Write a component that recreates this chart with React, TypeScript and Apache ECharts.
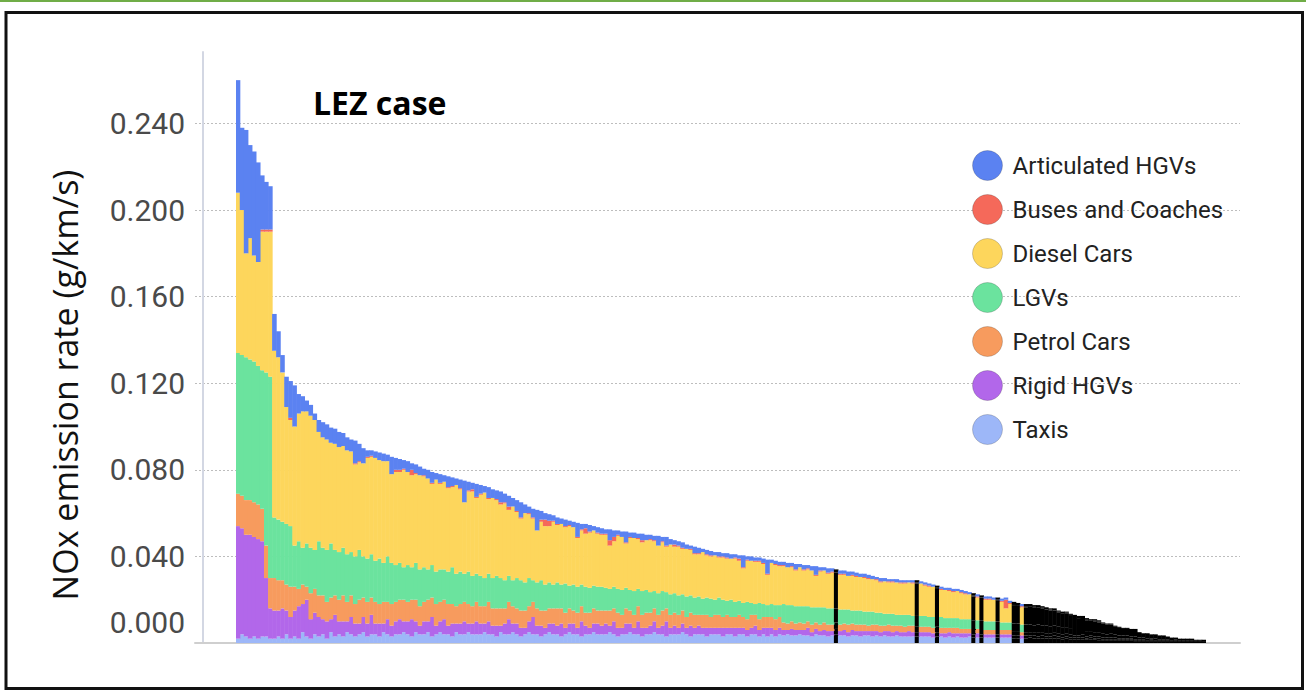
import React, { useEffect, useRef } from 'react';
import * as echarts from 'echarts';

// Stack order (bottom -> top) and legend order
const stackOrder = ['Taxis', 'Rigid HGVs', 'Petrol Cars', 'LGVs', 'Diesel Cars', 'Buses and Coaches', 'Articulated HGVs'];
const legendOrder = ['Articulated HGVs', 'Buses and Coaches', 'Diesel Cars', 'LGVs', 'Petrol Cars', 'Rigid HGVs', 'Taxis'];
const seriesColors: Record<string, string> = {
  'Articulated HGVs': '#5b82f1',
  'Buses and Coaches': '#f5695a',
  'Diesel Cars': '#fdd65c',
  'LGVs': '#6be39e',
  'Petrol Cars': '#f79b5e',
  'Rigid HGVs': '#b267ea',
  'Taxis': '#9db7f8',
};
const yTickStep = 0.04;
const yMax = 0.273;

// NOx emission rate (g/km/s) per road link, sorted by total
const taxis = [
  0.002,0.004,0.003,0.002,0.003,0.002,0.003,0.003,0.002,
  0.002,0.003,0.002,0.004,0.002,0.003,0.002,0.005,0.003,0.002,0.004,
  0.003,0.004,0.002,0.005,0.003,0.004,0.003,0.005,0.004,0.003,
  0.004,0.005,0.003,0.004,0.004,0.003,0.005,0.004,0.003,0.004,
  0.004,0.005,0.004,0.003,0.005,0.004,0.004,0.005,0.003,0.004,
  0.005,0.004,0.004,0.003,0.005,0.004,0.004,0.005,0.004,0.004,
  0.004,0.005,0.004,0.004,0.003,0.005,0.004,0.004,0.005,0.004,
  0.003,0.004,0.005,0.004,0.004,0.003,0.004,0.005,0.004,0.004,
  0.003,0.004,0.005,0.004,0.004,0.003,0.004,0.004,0.005,0.004,
  0.004,0.004,0.005,0.004,0.003,0.004,0.004,0.005,0.004,0.004,
  0.003,0.004,0.004,0.005,0.004,0.004,0.003,0.004,0.004,0.004,
  0.005,0.004,0.003,0.004,0.004,0.004,0.003,0.004,0.004,0.004,
  0.003,0.004,0.004,0.003,0.004,0.004,0.003,0.004,0.004,0.003,
  0.004,0.003,0.004,0.003,0.004,
  0.0035,0.004,0.0035,0.0035,0.004,0.0035,0.0035,0.003,0.004,0.0035,
  0.0035,0.003,0.0035,0.004,0.0035,0.0035,0.003,0.0035,0.0035,0.003,
  0.0035,0.0035,0.003,0.0035,0.003,0.0035,0.003,0.003,0.0035,0.003,
  0.003,0.003,0.003,0.003,0.003,0.003,0.003,0.0025,0.003,0.003,
  0.0025,0.003,0.0025,0.003,0.0025,0.0025,0.003,0.0025,0.0025,0.0025,
  0.0025,0.0025,0.0025,0.0025,0.0025,0.0025,0.0025,0.002,0.002,0.002,
  0.002,0.0025,0.002,0.002,0.002,0.002,0.002,0.002,0.002,0.0015,
  0.002,0.0015,0.0015,0.0015,0.0015,0.0015,0.0015,0.0015,0.001,0.001,
  0.001,0.001,0.001,0.001,0.001,0.001,0.001,0.0005,0.0005,0.0005,
  0.0005,0.0005,0.0005,0.0005,0.0005,0.0005,0.0005,0.0005,0.0005,0.0005,
  0.0005,0.0005,0.0005,0.0005,0.0005,
];

const rigidHGVs = [
  0.052,0.049,0.047,0.048,0.046,0.046,0.044,0.027,0.014,
  0.013,0.012,0.014,0.011,0.010,0.012,0.015,0.013,0.017,0.009,0.010,
  0.009,0.007,0.008,0.006,0.010,0.006,0.007,0.005,0.008,0.006,
  0.005,0.007,0.006,0.009,0.005,0.006,0.004,0.007,0.005,0.006,
  0.007,0.005,0.006,0.008,0.005,0.004,0.006,0.005,0.009,0.004,
  0.005,0.007,0.004,0.006,0.004,0.005,0.006,0.004,0.005,0.006,
  0.005,0.004,0.006,0.004,0.005,0.003,0.005,0.007,0.004,0.005,
  0.004,0.003,0.005,0.008,0.004,0.005,0.003,0.004,0.005,0.004,
  0.006,0.003,0.004,0.005,0.003,0.007,0.004,0.003,0.004,0.005,
  0.004,0.005,0.003,0.006,0.004,0.003,0.005,0.004,0.003,0.006,
  0.004,0.003,0.004,0.005,0.003,0.004,0.007,0.003,0.004,0.003,
  0.004,0.003,0.005,0.003,0.004,0.003,0.004,0.003,0.003,0.003,
  0.004,0.003,0.003,0.004,0.003,0.003,0.003,0.003,0.004,0.003,
  0.003,0.004,0.003,0.003,0.003,
  0.0025,0.002,0.003,0.0025,0.002,0.0025,0.0035,0.002,0.0025,0.002,
  0.0025,0.0025,0.002,0.0025,0.002,0.0025,0.002,0.0025,0.002,0.0025,
  0.002,0.002,0.0025,0.002,0.002,0.002,0.0025,0.002,0.002,0.002,
  0.002,0.0025,0.002,0.002,0.002,0.002,0.002,0.002,0.002,0.0015,
  0.002,0.002,0.002,0.0015,0.002,0.002,0.0015,0.0015,0.002,0.0015,
  0.0015,0.0015,0.0015,0.0015,0.0015,0.0015,0.0015,0.0015,0.0015,0.0015,
  0.0015,0.001,0.0015,0.001,0.0015,0.001,0.001,0.0015,0.001,0.001,
  0.001,0.001,0.001,0.001,0.001,0.0005,0.001,0.0005,0.001,0.0005,
  0.0005,0.0005,0.0005,0.0005,0.0005,0.0005,0.0005,0.0005,0.0005,0.0005,
  0,0.0005,0,0,0.0005,0,0,0,0,0,
  0,0,0,0,0,
];

const petrolCars = [
  0.015,0.015,0.016,0.016,0.016,0.016,0.015,0.015,0.014,
  0.015,0.014,0.013,0.012,0.014,0.011,0.008,0.009,0.006,0.012,0.011,
  0.010,0.011,0.009,0.010,0.009,0.010,0.012,0.009,0.010,0.009,
  0.011,0.009,0.010,0.008,0.010,0.009,0.010,0.008,0.010,0.009,
  0.009,0.010,0.009,0.009,0.010,0.009,0.009,0.010,0.009,0.010,
  0.009,0.009,0.010,0.009,0.008,0.009,0.009,0.009,0.008,0.009,
  0.008,0.008,0.009,0.008,0.008,0.008,0.007,0.008,0.008,0.007,
  0.008,0.008,0.007,0.007,0.008,0.007,0.008,0.007,0.007,0.008,
  0.007,0.007,0.007,0.006,0.007,0.007,0.006,0.007,0.007,0.006,
  0.007,0.006,0.007,0.006,0.007,0.006,0.007,0.006,0.006,0.007,
  0.006,0.007,0.006,0.006,0.006,0.007,0.006,0.006,0.006,0.006,
  0.006,0.005,0.006,0.006,0.005,0.006,0.006,0.005,0.006,0.006,
  0.005,0.006,0.005,0.005,0.006,0.005,0.005,0.006,0.005,0.005,
  0.005,0.005,0.005,0.005,0.005,
  0.0035,0.003,0.0035,0.003,0.0035,0.003,0.003,0.0035,0.003,0.003,
  0.0035,0.003,0.003,0.003,0.003,0.003,0.0035,0.003,0.003,0.003,
  0.003,0.0025,0.003,0.003,0.003,0.0025,0.003,0.003,0.0025,0.003,
  0.0025,0.0025,0.003,0.0025,0.0025,0.0025,0.0025,0.0025,0.0025,0.0025,
  0.0025,0.002,0.0025,0.0025,0.002,0.002,0.002,0.002,0.002,0.002,
  0.002,0.002,0.002,0.002,0.002,0.002,0.002,0.002,0.002,0.0015,
  0.0015,0.0015,0.0015,0.002,0.0015,0.0015,0.0015,0.0015,0.0015,0.0015,
  0.0015,0.0015,0.001,0.001,0.0015,0.001,0.001,0.001,0.001,0.001,
  0.001,0.001,0.001,0.0005,0.0005,0.0005,0.0005,0.0005,0.0005,0.0005,
  0.0005,0.0005,0.0005,0.0005,0,0.0005,0,0.0005,0,0,
  0,0,0,0,0,
];

const lgvs = [
  0.065,0.065,0.066,0.065,0.065,0.064,0.064,0.080,0.093,
  0.028,0.028,0.027,0.028,0.028,0.019,0.022,0.017,0.020,0.021,0.018,
  0.025,0.022,0.024,0.025,0.021,0.022,0.022,0.022,0.020,0.022,
  0.023,0.019,0.020,0.020,0.019,0.021,0.018,0.021,0.019,0.017,
  0.017,0.015,0.017,0.015,0.017,0.017,0.016,0.014,0.015,0.015,
  0.015,0.014,0.015,0.017,0.015,0.015,0.013,0.015,0.014,0.013,
  0.014,0.013,0.013,0.014,0.015,0.014,0.013,0.012,0.012,0.014,
  0.014,0.013,0.013,0.010,0.012,0.014,0.012,0.012,0.011,0.012,
  0.011,0.0135,0.0105,0.012,0.012,0.010,0.012,0.0115,0.0105,0.011,
  0.011,0.0105,0.010,0.010,0.011,0.0115,0.0095,0.0095,0.011,0.008,
  0.011,0.0105,0.0095,0.008,0.010,0.009,0.0075,0.0095,0.009,0.009,
  0.0075,0.0095,0.008,0.008,0.0085,0.0075,0.008,0.0085,0.007,0.008,
  0.008,0.0065,0.008,0.007,0.0065,0.0065,0.008,0.0055,0.005,0.0075,
  0.006,0.0055,0.006,0.0065,0.0055,
  0.0085,0.0085,0.0075,0.008,0.0075,0.008,0.007,0.008,0.007,0.008,
  0.007,0.0075,0.0075,0.0065,0.007,0.0065,0.007,0.006,0.0065,0.0065,
  0.006,0.0065,0.006,0.0055,0.006,0.0055,0.005,0.0055,0.005,0.005,
  0.0055,0.005,0.0045,0.005,0.005,0.005,0.0045,0.005,0.0045,0.005,
  0.0045,0.0045,0.0045,0.0045,0.0045,0.0045,0.0045,0.0045,0.004,0.0045,
  0.004,0.004,0.004,0.004,0.0035,0.0035,0.0035,0.0035,0.0035,0.0035,
  0.0035,0.0035,0.003,0.0035,0.003,0.0035,0.003,0.003,0.003,0.003,
  0.0025,0.0025,0.0025,0.0025,0.002,0.0025,0.002,0.002,0.002,0.002,
  0.0015,0.002,0.0015,0.0015,0.0015,0.0015,0.001,0.0015,0.001,0.001,
  0.001,0.0005,0.001,0.0005,0.0005,0.0005,0.0005,0.0005,0.0005,0.0005,
  0.0005,0.0005,0.0005,0.0005,0,
];

const dieselCars = [
  0.074,0.067,0.048,0.056,0.049,0.048,0.064,0.065,0.067,
  0.077,0.075,0.069,0.054,0.049,0.055,0.059,0.063,0.061,0.061,0.060,
  0.0505,0.051,0.051,0.0465,0.049,0.0485,0.047,0.048,0.0465,0.0425,
  0.0405,0.043,0.0465,0.045,0.0475,0.0455,0.047,0.044,0.041,0.043,
  0.042,0.045,0.043,0.0425,0.041,0.0435,0.042,0.042,0.0375,0.0425,
  0.0395,0.0405,0.0385,0.037,0.041,0.038,0.033,0.037,0.039,0.035,
  0.0375,0.0395,0.0345,0.037,0.035,0.034,0.0355,0.0305,0.034,0.0305,
  0.0285,0.032,0.0295,0.0285,0.024,0.027,0.027,0.026,0.029,0.0265,
  0.028,0.026,0.0275,0.0265,0.0225,0.025,0.0245,0.0255,0.0255,0.0245,
  0.024,0.0245,0.020,0.021,0.0245,0.0245,0.0205,0.024,0.0245,0.023,
  0.0225,0.023,0.024,0.023,0.022,0.0225,0.021,0.023,0.0215,0.0225,
  0.021,0.022,0.021,0.020,0.0195,0.0215,0.0195,0.0195,0.0205,0.0185,
  0.0195,0.0195,0.019,0.020,0.0185,0.016,0.019,0.0195,0.0195,0.019,
  0.0185,0.014,0.019,0.0185,0.018,
  0.0175,0.0175,0.0175,0.0165,0.018,0.0165,0.017,0.017,0.0145,0.0165,
  0.017,0.016,0.0165,0.0165,0.016,0.016,0.0155,0.016,0.0155,0.0155,
  0.0155,0.015,0.015,0.015,0.014,0.015,0.0145,0.0145,0.015,0.0145,
  0.0145,0.015,0.015,0.015,0.015,0.014,0.014,0.014,0.013,0.0125,
  0.013,0.0125,0.012,0.0125,0.012,0.0115,0.0115,0.011,0.0105,0.0105,
  0.010,0.010,0.010,0.0095,0.0095,0.0065,0.0085,0.0085,0.0085,0.008,
  0.008,0.0085,0.0085,0.008,0.008,0.0075,0.0075,0.007,0.0065,0.0065,
  0.0065,0.006,0.006,0.0055,0.006,0.005,0.005,0.005,0.0045,0.0045,
  0.0045,0.004,0.0035,0.0035,0.003,0.003,0.003,0.003,0.0025,0.002,
  0.0025,0.002,0.002,0.002,0.002,0.0015,0.0015,0.001,0.001,0.001,
  0.001,0.001,0.0005,0.0005,0.001,
];

const buses = [
  0,0,0,0,0,0,0.001,0.001,0.001,
  0,0,0,0,0.001,0,0,0,0,0,0,
  0,0,0,0,0,0,0,0,0,0.0005,
  0.0005,0,0.0005,0.0005,0,0,0,0,0,0.001,
  0.001,0.0005,0,0.0025,0.0005,0,0.0005,0,0.0005,0,
  0.0005,0,0.0005,0.0005,0,0.0005,0,0.0005,0.001,0.0005,
  0.0005,0,0.0005,0,0.0005,0.001,0.0005,0.0015,0,0.0005,
  0.0005,0,0.0005,0.0005,0,0.001,0.003,0.0025,0.0005,0.0005,
  0,0.0005,0.0005,0,0.0005,0.0005,0.0025,0.0005,0,0.0005,
  0.0005,0.0005,0.0025,0.002,0.0005,0,0.0005,0.0005,0,0.0005,
  0.001,0,0.0005,0.0005,0,0.0005,0.0005,0,0.001,0.0005,
  0.0005,0,0.0005,0.0005,0.0005,0,0.0005,0.0005,0,0.0005,
  0.0005,0.0005,0,0.0005,0.001,0.0005,0.0005,0,0.0005,0.0005,
  0.0005,0.0005,0,0.0005,0.0005,
  0.0005,0,0.0005,0.0005,0,0.0005,0.0005,0,0.0005,0.0005,
  0,0.0005,0.0005,0,0.0005,0.0005,0,0.0005,0.0005,0,
  0.0005,0.0005,0,0.0005,0.0005,0,0.0005,0.0005,0,0.0005,
  0.0005,0,0.0005,0.0005,0,0.0005,0.0005,0,0.0005,0.0005,
  0,0.0005,0.0005,0,0.0005,0.0005,0,0.0005,0.0005,0,
  0.0005,0.0005,0,0.0005,0.0005,0.004,0.0005,0.0005,0,0.0005,
  0.0005,0,0.0005,0,0.0005,0,0.0005,0,0.0005,0,
  0.0005,0.0005,0,0.0005,0,0.0005,0,0.0005,0.0005,0,
  0,0,0,0,0,0,0,0,0,0,
  0,0,0,0,0,0,0,0,0,0,
  0,0,0,0,0,
];

const articulatedHGVs = [
  0.052,0.038,0.057,0.043,0.048,0.046,0.025,0.022,0.020,
  0.017,0.012,0.008,0.014,0.017,0.019,0.009,0.007,0.005,0.005,0.003,
  0.0055,0.007,0.007,0.007,0.007,0.007,0.006,0.006,0.0055,0.0105,
  0.008,0.007,0.003,0.0025,0.003,0.0035,0.0035,0.003,0.008,0.0055,
  0.005,0.004,0.005,0.003,0.004,0.004,0.003,0.004,0.005,0.003,
  0.004,0.003,0.005,0.004,0.003,0.004,0.010,0.004,0.003,0.006,
  0.004,0.003,0.005,0.004,0.004,0.005,0.004,0.005,0.004,0.005,
  0.007,0.004,0.003,0.004,0.0095,0.004,0.003,0.003,0.0025,0.003,
  0.0025,0.003,0.002,0.0025,0.0065,0.0025,0.002,0.003,0.002,0.0025,
  0.0025,0.002,0.005,0.003,0.002,0.0025,0.005,0.002,0.0025,0.002,
  0.003,0.0025,0.002,0.002,0.0045,0.002,0.004,0.0025,0.002,0.002,
  0.0025,0.002,0.0015,0.003,0.0025,0.0015,0.002,0.002,0.0015,0.002,
  0.0015,0.002,0.002,0.0015,0.0015,0.0055,0.0015,0.002,0.0015,0.0015,
  0.002,0.0065,0.0015,0.0015,0.0015,
  0.0015,0.002,0.0015,0.0025,0.0015,0.002,0.0015,0.002,0.004,0.0015,
  0.0015,0.002,0.0015,0.0015,0.0015,0.0015,0.002,0.0015,0.0015,0.0015,
  0.0015,0.0015,0.0015,0.001,0.0015,0.0015,0.001,0.001,0.0015,0.001,
  0.001,0.001,0.001,0.001,0.001,0.001,0.001,0.001,0.001,0.001,
  0.001,0.001,0.001,0.001,0.001,0.001,0.001,0.001,0.001,0.001,
  0.001,0.001,0.001,0.001,0.001,0.001,0.001,0.001,0.001,0.001,
  0.001,0.001,0.0005,0.001,0.0005,0.001,0.0005,0.001,0.0005,0.001,
  0.0005,0.0005,0.001,0.0005,0.0005,0.0005,0.0005,0.0005,0.0005,0.0005,
  0.0005,0.0005,0.0005,0.0005,0.0005,0.0005,0.0005,0.0005,0,0,
  0,0,0,0,0,0,0,0,0,0,
  0,0,0,0,0,
];

// road links drawn in black in the original figure
const blackBars = [
  148, 168, 173, 182, 184, 188, 192, 193,
  195, 196, 197, 198, 199, 200, 201, 202, 203, 204, 205, 206, 207, 208, 209,
  210, 211, 212, 213, 214, 215, 216, 217, 218, 219, 220, 221, 222, 223, 224,
  225, 226, 227, 228, 229, 230, 231, 232, 233, 234, 235, 236, 237, 238, 239,
];

const seriesData: Record<string, number[]> = {
  'Taxis': taxis,
  'Rigid HGVs': rigidHGVs,
  'Petrol Cars': petrolCars,
  'LGVs': lgvs,
  'Diesel Cars': dieselCars,
  'Buses and Coaches': buses,
  'Articulated HGVs': articulatedHGVs,
};

const chartTitle = 'LEZ case';
const yAxisTitle = 'NOx emission rate (g/km/s)';

export default function App() {
  const ref = useRef<HTMLDivElement>(null);
  useEffect(() => {
    document.body.style.margin = '0';
    const chart = echarts.init(ref.current as HTMLDivElement, null, { renderer: 'svg' });
    const black = new Set(blackBars);
    const links = taxis.map((_, i) => String(i + 1));
    const series = stackOrder.map((name) => ({
      type: 'bar',
      name,
      stack: 'total',
      xAxisIndex: 0,
      yAxisIndex: 0,
      barWidth: 4.6,
      itemStyle: { color: seriesColors[name] },
      emphasis: { disabled: true },
      data: seriesData[name].map((v, i) => (black.has(i)
        ? { value: v, itemStyle: { color: '#000000' } }
        : v)),
    }));
    const labelFont = { fontSize: 30, fontFamily: 'Roboto', color: '#4a4a4a' };
    chart.setOption({
      animation: false,
      backgroundColor: '#ffffff',
      grid: [
        { left: 236, right: 100, top: 52, bottom: 48, containLabel: false },
        { left: 195, right: 66, top: 52, bottom: 48, containLabel: false },
      ],
      legend: {
        orient: 'vertical',
        left: 972,
        top: 150,
        padding: 0,
        icon: 'circle',
        itemWidth: 30,
        itemHeight: 30,
        itemGap: 13,
        data: legendOrder,
        selectedMode: false,
        itemStyle: { borderColor: 'rgba(0,0,0,0.18)', borderWidth: 1 },
        textStyle: { fontSize: 24, fontFamily: 'Roboto', color: '#222', padding: [0, 0, 0, 5] },
      },
      xAxis: [
        {
          type: 'category',
          gridIndex: 0,
          data: links,
          boundaryGap: true,
          show: false,
        },
        {
          type: 'value',
          gridIndex: 1,
          min: 0,
          max: 1,
          axisLine: { show: true, onZero: false, lineStyle: { color: '#cfcfcf', width: 2 } },
          axisTick: { show: false },
          axisLabel: { show: false },
          splitLine: { show: false },
        },
      ],
      yAxis: [
        {
          type: 'value',
          gridIndex: 0,
          min: 0,
          max: yMax,
          show: false,
          splitLine: { show: false },
        },
        {
          type: 'value',
          gridIndex: 1,
          min: 0,
          max: yMax,
          interval: yTickStep,
          offset: -8,
          axisLine: { show: true, onZero: false, lineStyle: { color: '#d3d7e3', width: 2 } },
          axisTick: { show: false },
          axisLabel: {
            ...labelFont,
            margin: 18,
            showMaxLabel: false,
            formatter: (v: number) => {
              const k = v / yTickStep;
              if (Math.abs(k - Math.round(k)) > 1e-6) return '';
              if (Math.abs(v) < 1e-9) return '{z|0.000}';
              return v.toFixed(3);
            },
            rich: { z: { ...labelFont, padding: [0, 0, 42, 0] } },
          },
          splitLine: {
            show: true,
            showMinLine: false,
            showMaxLine: false,
            lineStyle: { color: '#bdbdbd', type: [2, 2], width: 1 },
          },
        },
      ],
      graphic: [
        { type: 'rect', shape: { x: 0, y: 0, width: 1306, height: 2 }, style: { fill: '#70ad47' } },
        { type: 'rect', shape: { x: 6, y: 12.5, width: 1296.5, height: 676 }, style: { fill: 'none', stroke: '#111111', lineWidth: 3 } },
        {
          type: 'text', x: 313, y: 102,
          style: { text: chartTitle, fontSize: 32, fontWeight: 'bold', fontFamily: 'Open Sans', fill: '#000', align: 'left', verticalAlign: 'middle' },
        },
        {
          type: 'text', x: 65, y: 385, rotation: Math.PI / 2,
          style: { text: yAxisTitle, fontSize: 34, fontFamily: 'Open Sans', fill: '#111', align: 'center', verticalAlign: 'middle' },
        },
      ],
      series,
    });
    return () => chart.dispose();
  }, []);
  return <div ref={ref} style={{ position: 'absolute', left: 0, top: 0, width: 1306, height: 691, background: '#fff' }} />;
}
